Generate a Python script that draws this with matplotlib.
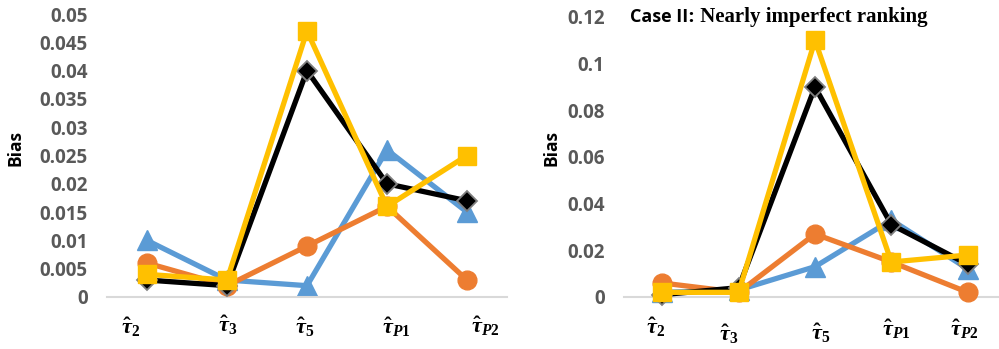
import matplotlib
matplotlib.use("Agg")
import matplotlib.pyplot as plt

plt.rcParams['mathtext.fontset'] = 'custom'
plt.rcParams['mathtext.rm'] = 'Liberation Serif:bold'
plt.rcParams['mathtext.it'] = 'Liberation Serif:bold:italic'
plt.rcParams['mathtext.bf'] = 'Liberation Serif:bold'

categories = [r'$\hat{\tau}_{2}$', r'$\hat{\tau}_{3}$', r'$\hat{\tau}_{5}$',
              r'$\hat{\tau}_{P1}$', r'$\hat{\tau}_{P2}$']

# Case I
left_blue = [0.010, 0.003, 0.002, 0.026, 0.015]
left_orange = [0.006, 0.002, 0.009, 0.016, 0.003]
left_black = [0.003, 0.002, 0.040, 0.020, 0.017]
left_yellow = [0.004, 0.003, 0.047, 0.016, 0.025]
left_ticks = [0, 0.005, 0.01, 0.015, 0.02, 0.025, 0.03, 0.035, 0.04, 0.045, 0.05]
left_ticklabels = ['0', '0.005', '0.01', '0.015', '0.02', '0.025', '0.03',
                   '0.035', '0.04', '0.045', '0.05']

# Case II
right_blue = [0.002, 0.003, 0.013, 0.033, 0.012]
right_orange = [0.006, 0.002, 0.027, 0.015, 0.002]
right_black = [0.001, 0.004, 0.090, 0.031, 0.014]
right_yellow = [0.002, 0.002, 0.110, 0.015, 0.018]
right_ticks = [0, 0.02, 0.04, 0.06, 0.08, 0.10, 0.12]
right_ticklabels = ['0', '0.02', '0.04', '0.06', '0.08', '0.1', '0.12']

right_title = 'Case II: Nearly imperfect ranking'

# category label placement (pixel offsets from the category position on the axis)
left_label_offsets = [(-16, -30), (1, -28), (-2, -30), (9, -30), (18, -29)]
right_label_offsets = [(-7, -30), (-10, -37), (6, -36), (5, -32), (-4, -32)]

BLUE = '#5B9BD5'
ORANGE = '#ED7D31'
BLACK = '#000000'
YELLOW = '#FFC000'
TICK_GRAY = '#595959'
AXIS_GRAY = '#D9D9D9'

fig = plt.figure(figsize=(9.99, 3.49), dpi=100)
W, H = 999, 349


def make_axes(x0, x1, y0, y1):
    return fig.add_axes([x0 / W, (H - y0) / H, (x1 - x0) / W, (y0 - y1) / H])


def draw_panel(ax, blue, orange, black, yellow, ticks, ticklabels, ymax, offsets):
    x = list(range(len(categories)))
    lw = 3.8
    ax.plot(x, blue, color=BLUE, lw=lw, marker='^', ms=14.5, mec=BLUE, zorder=2,
            clip_on=False)
    ax.plot(x, orange, color=ORANGE, lw=lw, marker='o', ms=13.5, mec=ORANGE, zorder=3,
            clip_on=False)
    ax.plot(x, black, color=BLACK, lw=lw, marker='D', ms=10, mec='#808080', mew=1.3,
            zorder=4, clip_on=False)
    ax.plot(x, yellow, color=YELLOW, lw=lw, marker='s', ms=13.5, mec=YELLOW, zorder=5,
            clip_on=False)
    ax.set_xlim(-0.5, len(categories) - 0.5)
    ax.set_ylim(0, ymax)
    ax.set_yticks(ticks)
    ax.set_yticklabels(ticklabels, family='Open Sans', fontweight='bold',
                       fontsize=13.5, color=TICK_GRAY)
    ax.set_xticks([])
    for i, (label, (dx, dy)) in enumerate(zip(categories, offsets)):
        ax.annotate(label, xy=(i, 0), xycoords=('data', 'axes fraction'),
                    xytext=(dx, dy), textcoords='offset pixels',
                    ha='center', va='center', fontsize=16, annotation_clip=False)
    ax.tick_params(axis='both', length=0)
    ax.tick_params(axis='y', pad=14)
    for s in ['top', 'right', 'left']:
        ax.spines[s].set_visible(False)
    ax.spines['bottom'].set_color(AXIS_GRAY)
    ax.spines['bottom'].set_linewidth(1.5)
    ax.patch.set_alpha(0)


ax1 = make_axes(107, 507, 297, 14)
draw_panel(ax1, left_blue, left_orange, left_black, left_yellow,
           left_ticks, left_ticklabels, 0.05, left_label_offsets)
fig.text(15 / W, (H - 148) / H, 'Bias', rotation=90, ha='center', va='center',
         family='Open Sans', fontweight='bold', fontsize=12.5)

ax2 = make_axes(624, 1006, 297, 17)
draw_panel(ax2, right_blue, right_orange, right_black, right_yellow,
           right_ticks, right_ticklabels, 0.12, right_label_offsets)
fig.text(552 / W, (H - 148) / H, 'Bias', rotation=90, ha='center', va='center',
         family='Open Sans', fontweight='bold', fontsize=12.5)

# Title: sans-serif "Case II" followed by serif remainder
t1 = fig.text(630 / W, (H - 17) / H, 'Case II', ha='left', va='center',
              family='Open Sans', fontweight='bold', fontsize=13)
fig.canvas.draw()
bb = t1.get_window_extent()
fig.text(bb.x1 / W, (H - 17) / H, ': Nearly imperfect ranking', ha='left',
         va='center', family='Liberation Serif', fontweight='bold', fontsize=15)

fig.savefig('out.png', dpi=100)
